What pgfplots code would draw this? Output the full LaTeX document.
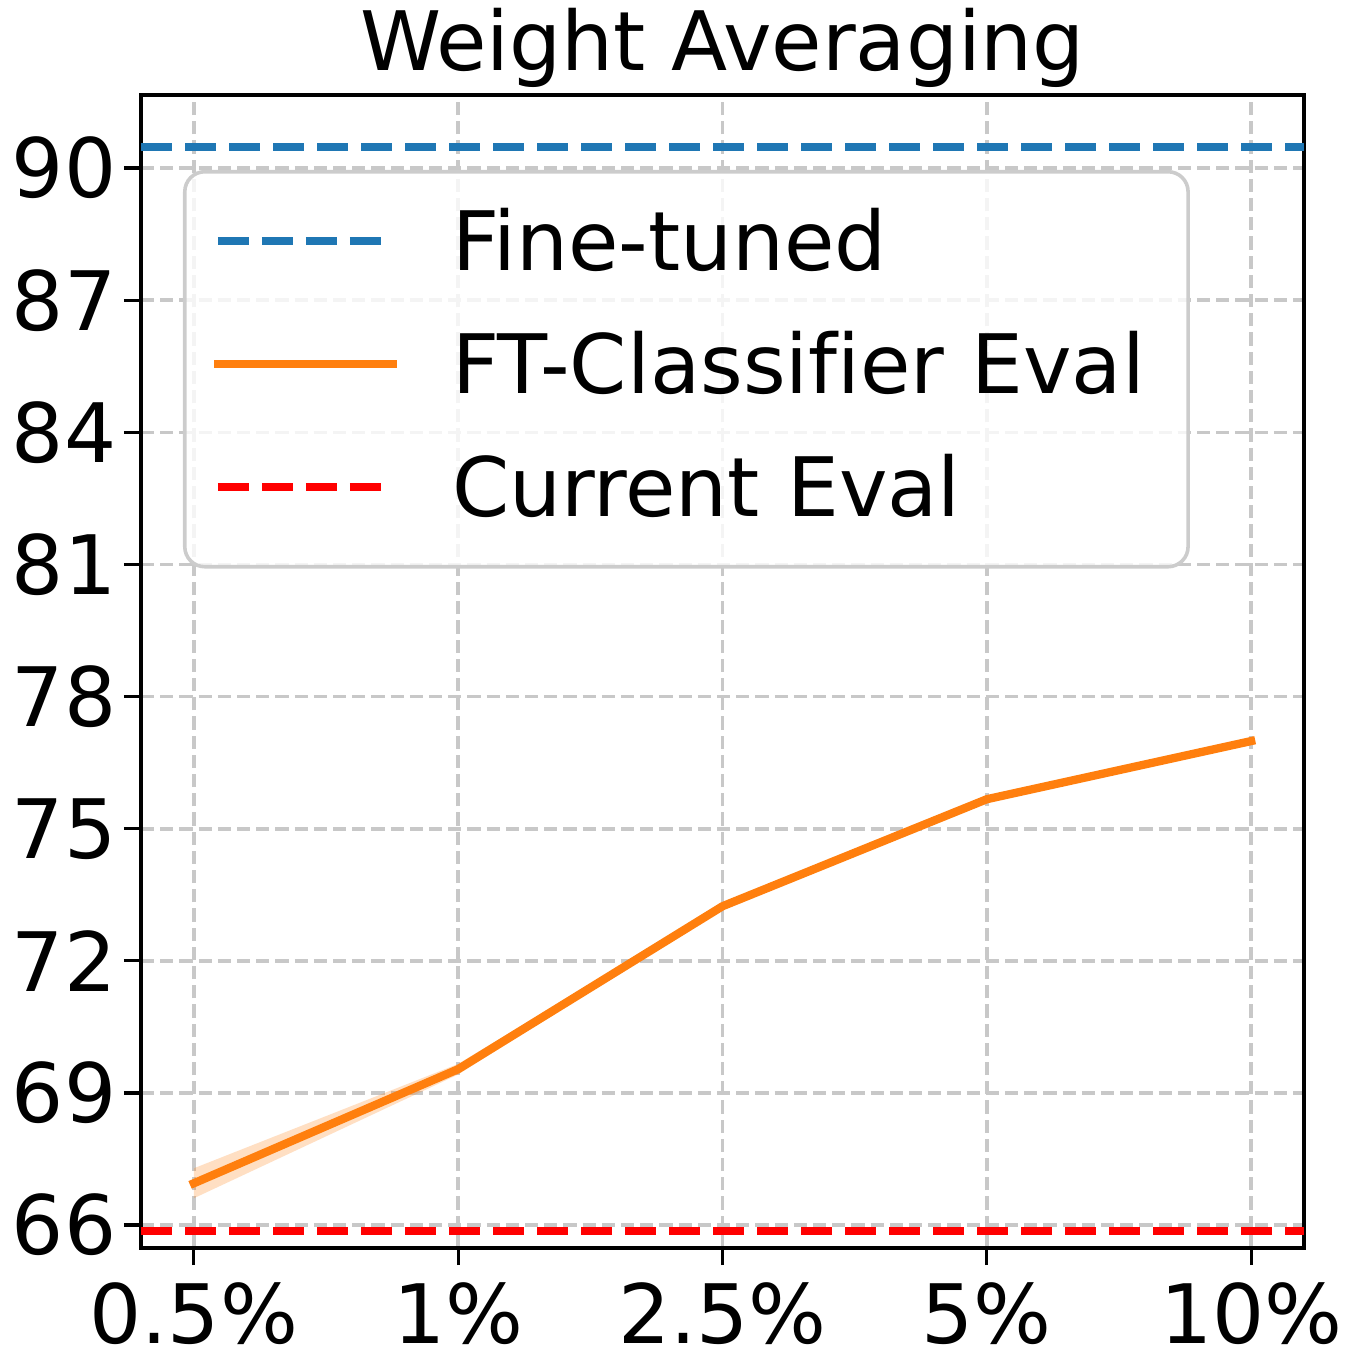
\documentclass[border=0pt]{standalone}
\usepackage{fontspec}
\setmainfont[Ligatures=NoCommon]{DejaVu Sans}
\usepackage{pgfplots}
\pgfplotsset{compat=1.18}
\definecolor{tabblue}{HTML}{1F77B4}
\definecolor{taborange}{HTML}{FF7F0E}
\definecolor{gridgray}{HTML}{C8C8C8}
\definecolor{legframe}{HTML}{CCCCCC}
\newcommand{\bigfont}{\fontsize{20.5}{24}\selectfont}
\begin{document}
\begin{tikzpicture}
\begin{axis}[
  scale only axis,
  width=290.75pt, height=288.25pt,
  xmin=-0.2, xmax=4.2, ymin=65.48, ymax=91.66,
  xtick={0,1,2,3,4},
  xticklabels={0.5\%,1\%,2.5\%,5\%,10\%},
  ytick={66,69,72,75,78,81,84,87,90},
  font=\bigfont,
  tick label style={font=\bigfont, inner sep=0pt},
  xticklabel style={anchor=base, yshift=-19.5pt},
  yticklabel style={anchor=east, xshift=-1.75pt},
  /pgf/number format/assume math mode=true,
  tick align=outside,
  tick pos=left,
  major tick length=4.25pt,
  every tick/.style={black, line width=0.8pt},
  axis line style={black, line width=0.8pt},
  grid=major,
  major grid style={gridgray, line width=0.9pt, dash pattern=on 3.3pt off 1.5pt},
  title={Weight Averaging},
  title style={at={(axis description cs:0.5,1)}, anchor=base, yshift=0pt, font=\bigfont, inner sep=0pt},
  legend cell align=left,
  legend image code/.code={\draw[#1, yshift=1.375pt] (0pt,0pt) -- (43.75pt,0pt);},
  legend style={at={(axis description cs:0.0361,0.935)}, anchor=north west,
    draw=legframe, line width=0.9pt, rounded corners=5pt,
    fill=white, fill opacity=0.8, text opacity=1, draw opacity=1,
    inner xsep=7.25pt, inner ysep=7.5pt, row sep=8.5pt, column sep=13.75pt,
    nodes={inner sep=0pt, text height=17.25pt, text depth=5pt, text width=176.75pt, font=\bigfont}},
]
\addplot[tabblue, line width=2.07pt, dash pattern=on 7.65pt off 3.35pt, line cap=butt]
  coordinates {(-0.2,90.48) (4.2,90.48)};
\addlegendentry{Fine-tuned}
\addplot[draw=none, fill=taborange, fill opacity=0.25, forget plot]
  coordinates {(0,67.29) (1,69.66) (2,73.30) (3,75.72) (4,77.04)
               (4,76.94) (3,75.62) (2,73.18) (1,69.42) (0,66.61)} -- cycle;
\addplot[taborange, line width=2.07pt, line join=round, line cap=rect]
  coordinates {(0,66.95) (1,69.54) (2,73.24) (3,75.67) (4,76.99)};
\addlegendentry{FT-Classifier Eval}
\addplot[red, line width=2.07pt, dash pattern=on 7.65pt off 3.35pt, line cap=butt]
  coordinates {(-0.2,65.86) (4.2,65.86)};
\addlegendentry{Current Eval}
\end{axis}
\pgfresetboundingbox
\path ([shift={(-35.25pt,-29.5pt)}]current axis.south west) rectangle ([shift={(11.25pt,23.75pt)}]current axis.north east);
\end{tikzpicture}
\end{document}
